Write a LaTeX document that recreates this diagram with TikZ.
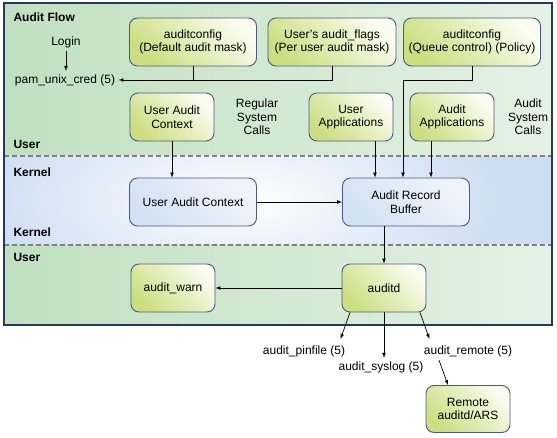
\documentclass[tikz,border=0pt]{standalone}
\usepackage{fontspec}
\setmainfont{Liberation Sans}
\usepackage{xcolor}
\usetikzlibrary{shapes,arrows,positioning}

\definecolor{framec}{RGB}{36,56,96}
\definecolor{usergreen}{RGB}{192,224,192}
\definecolor{userlight}{RGB}{228,241,228}
\definecolor{kernblue}{RGB}{206,222,242}
\definecolor{boxgreen}{RGB}{204,222,128}
\definecolor{boxlight}{RGB}{250,252,240}
\definecolor{kboxblue}{RGB}{210,225,243}
\definecolor{boxedge}{RGB}{72,92,130}

\begin{document}
\begin{tikzpicture}[
    x=1pt, y=-1pt,
    every node/.style={font=\fontsize{12}{13.5}\selectfont},
    gbox/.style={rectangle, rounded corners=8pt, draw=boxedge, line width=0.9pt, top color=boxgreen, bottom color=boxlight, shading angle=135, minimum width=84pt, minimum height=48pt, align=center},
    kbox/.style={rectangle, rounded corners=8pt, draw=boxedge, line width=0.9pt, top color=kboxblue, bottom color=kboxblue!35!white, shading angle=135, minimum width=127pt, minimum height=48pt, align=center},
    txt/.style={align=center},
    lbl/.style={anchor=west, font=\bfseries\fontsize{12}{13.5}\selectfont},
    sep/.style={draw=gray, dashed, dash pattern=on 5pt off 3pt, line width=1.2pt},
    arr/.style={-latex, line width=0.7pt}
]
    \useasboundingbox (0,0) rectangle (557,438);

    % Bands
    \shade[left color=usergreen, right color=userlight] (4,3) rectangle (552,156);
    \fill[kernblue] (4,156) rectangle (552,245);
    \begin{scope}
        \clip (4,156) rectangle (552,245);
        \shade[inner color=white, outer color=kernblue] (240,200) ellipse (260 and 110);
    \end{scope}
    \shade[left color=usergreen, right color=userlight] (4,245) rectangle (552,325);
    \draw[sep] (4,156) -- (552,156);
    \draw[sep] (4,245) -- (552,245);
    \draw[framec, line width=2pt] (4,3) rectangle (552,325);

    % Band labels
    \node[lbl] (flowlbl) at (10,17) {Audit Flow};
    \node[lbl] (userlbl) at (10,144) {User};
    \node[lbl] (kernlbl) at (10,172) {Kernel};
    \node[lbl] (kernlblb) at (10,232) {Kernel};
    \node[lbl] (userlblb) at (10,257) {User};

    % User level
    \node[txt] (login) at (66,42) {Login};
    \node[txt] (pam) at (65,80) {pam\_unix\_cred (5)};
    \node[gbox, minimum width=127pt] (defcfg) at (193,42) {auditconfig\\(Default audit mask)};
    \node[gbox, minimum width=128pt] (flags) at (332,42) {User's audit\_flags\\(Per user audit mask)};
    \node[gbox, minimum width=137pt] (queuecfg) at (472,42) {auditconfig\\(Queue control) (Policy)};
    \node[gbox] (uctx) at (172,117) {User Audit\\Context};
    \node[txt] (regcalls) at (257,117) {Regular\\System\\Calls};
    \node[gbox] (userapp) at (351,117) {User\\Applications};
    \node[gbox] (auditapp) at (452,117) {Audit\\Applications};
    \node[txt] (audcalls) at (528,117) {Audit\\System\\Calls};

    % Kernel level
    \node[kbox] (kctx) at (193,202) {User Audit Context};
    \node[kbox] (buffer) at (406,202) {Audit Record\\Buffer};

    % Daemon level
    \node[gbox] (warn) at (173,288) {audit\_warn};
    \node[gbox] (auditd) at (384,288) {auditd};
    \node[txt] (pinfile) at (304,351) {audit\_pinfile (5)};
    \node[txt] (syslog) at (381,367) {audit\_syslog (5)};
    \node[txt] (remote) at (468,351) {audit\_remote (5)};
    \node[gbox, minimum height=47pt] (ars) at (468,409) {Remote\\auditd/ARS};

    % Connections
    \draw[arr] (login.south) -- (login.south |- pam.north);
    \draw[line width=0.7pt] (defcfg.south) -- (defcfg.south |- pam.east);
    \draw[arr] (flags.south) |- (pam.east);
    \draw[arr] (queuecfg.south) -- ++(0,14) -| ([xshift=-3pt]buffer.north);

    \draw[arr] (uctx.south) -- (uctx.south |- kctx.north);
    \draw[arr] ([xshift=24pt]userapp.south) -- ([xshift=24pt]userapp.south |- buffer.north);
    \draw[arr] ([xshift=-21pt]auditapp.south) -- ([xshift=-21pt]auditapp.south |- buffer.north);
    \draw[arr] (kctx.east) -- (buffer.west);

    \draw[arr] (auditd.north |- buffer.south) -- (auditd.north);
    \draw[arr] (auditd.west) -- (warn.east);
    \draw[arr] ([xshift=-34pt]auditd.south) -- ([xshift=-8pt,yshift=3pt]pinfile.north east);
    \draw[arr] (auditd.south) -- (auditd.south |- syslog.north);
    \draw[arr] ([xshift=36pt]auditd.south) -- ([xshift=9pt,yshift=3pt]remote.north west);
    \draw[arr] ([xshift=-29pt]remote.south) -- ([xshift=-20pt]ars.north);
\end{tikzpicture}
\end{document}
